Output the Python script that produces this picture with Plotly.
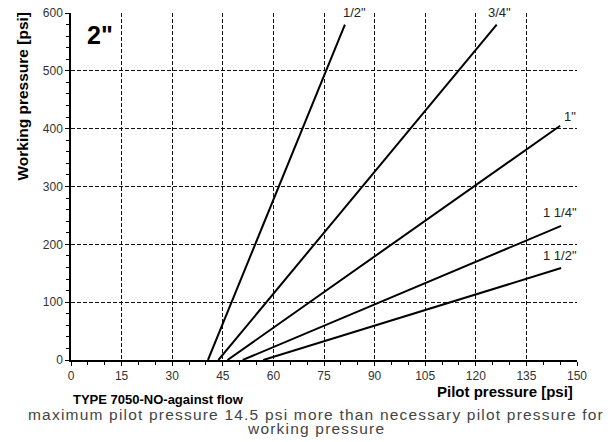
import plotly.graph_objects as go

# pilot pressure [psi] vs working pressure [psi] per valve size
sizes = ['1/2"', '3/4"', '1"', '1 1/4"', '1 1/2"']
pilot = [
    [40.6, 81.2],
    [43.7, 126.2],
    [46.4, 145.0],
    [50.9, 145.3],
    [57.0, 145.3],
]
working = [
    [0, 580],
    [0, 580],
    [0, 405],
    [0, 232],
    [0, 159],
]

x_ticks = [0, 15, 30, 45, 60, 75, 90, 105, 120, 135, 150]
y_ticks = [0, 100, 200, 300, 400, 500, 600]

# label offsets (px) from each line end
label_shift = [(10, 12), (3, 12), (10, 9), (-1, 13), (-1, 13)]

FONT = "Arial, Liberation Sans, Helvetica, sans-serif"
GRID_DARK = "#111111"
GRID_LIGHT = "#cfcfcf"

fig = go.Figure()

for name, xs, ys, (dx, dy) in zip(sizes, pilot, working, label_shift):
    fig.add_trace(go.Scatter(
        x=xs, y=ys, mode="lines", name=name,
        line=dict(color="black", width=2),
        showlegend=False, hoverinfo="skip",
    ))
    fig.add_annotation(
        x=xs[-1], y=ys[-1], text=name, showarrow=False,
        xanchor="center", yanchor="middle", xshift=dx, yshift=dy,
        font=dict(family=FONT, size=13, color="#222222"),
    )

common = dict(showline=False, zeroline=False, ticks="", showticklabels=False,
              automargin=False)

fig.update_layout(
    width=616, height=442,
    margin=dict(l=71, r=39, t=13, b=82, autoexpand=False),
    paper_bgcolor="white", plot_bgcolor="white",
    font=dict(family=FONT, size=12, color="#333333"),
    xaxis=dict(
        range=[0, 150], tickvals=x_ticks, showgrid=False, zeroline=False,
        showline=True, linecolor="black", linewidth=1.5, automargin=False,
        ticks="outside", ticklen=4, tickcolor="black",
        minor=dict(dtick=5, ticks="outside", ticklen=3, tickcolor="black"),
        tickfont=dict(size=12, color="#333333"),
    ),
    yaxis=dict(
        range=[0, 600], tickvals=y_ticks, showgrid=False, zeroline=False,
        showline=True, linecolor="black", linewidth=1.5, automargin=False,
        ticks="outside", ticklen=4, tickcolor="black",
        minor=dict(dtick=20, ticks="outside", ticklen=3, tickcolor="black"),
        tickfont=dict(size=12, color="#333333"),
    ),
    # interior dashed grid
    xaxis2=dict(range=[0, 150], overlaying="x", tickvals=x_ticks[1:-1],
                showgrid=True, gridcolor=GRID_DARK, gridwidth=1,
                griddash="4px,2px", layer="below traces", **common),
    yaxis2=dict(range=[0, 600], overlaying="y", tickvals=y_ticks[1:-1],
                showgrid=True, gridcolor=GRID_DARK, gridwidth=1,
                griddash="4px,2px", layer="below traces", **common),
    # light dashed border on top/right
    xaxis3=dict(range=[0, 150], overlaying="x", tickvals=[x_ticks[-1]],
                showgrid=True, gridcolor=GRID_LIGHT, gridwidth=1.5,
                griddash="4px,2px", layer="below traces", **common),
    yaxis3=dict(range=[0, 600], overlaying="y", tickvals=[y_ticks[-1]],
                showgrid=True, gridcolor=GRID_LIGHT, gridwidth=1.5,
                griddash="4px,2px", layer="below traces", **common),
)

# invisible helpers so the overlay axes get drawn
for ax in ("2", "3"):
    fig.add_trace(go.Scatter(x=[0], y=[0], xaxis="x" + ax, yaxis="y" + ax,
                             mode="markers", marker=dict(opacity=0),
                             showlegend=False, hoverinfo="skip"))

fig.add_annotation(x=0.0277, y=0.9366, xref="paper", yref="paper",
                   xanchor="left", yanchor="middle", showarrow=False,
                   text="<b>2\"</b>", font=dict(family=FONT, size=25, color="black"))
fig.add_annotation(x=-0.0968, y=1.0086, xref="paper", yref="paper",
                   xanchor="center", yanchor="top", textangle=-90, showarrow=False,
                   text="<b>Working pressure [psi]</b>",
                   font=dict(family=FONT, size=15.5, color="black"))
fig.add_annotation(x=0.996, y=-0.0922, xref="paper", yref="paper",
                   xanchor="right", yanchor="middle", showarrow=False,
                   text="<b>Pilot pressure [psi]</b>",
                   font=dict(family=FONT, size=15, color="black"))
fig.add_annotation(x=0.0, y=-0.1124, xref="paper", yref="paper",
                   xanchor="left", yanchor="middle", showarrow=False,
                   text="<b>TYPE 7050-NO-against flow</b>",
                   font=dict(family=FONT, size=13, color="black"))

footer = ["maximum pilot pressure 14.5 psi more than necessary pilot pressure for",
          "working pressure"]
for line, ypos in zip(footer, (-0.1585, -0.1960)):
    fig.add_annotation(x=0.484, y=ypos, xref="paper", yref="paper",
                       xanchor="center", yanchor="middle", showarrow=False,
                       text=f"<span style='letter-spacing:1.2px'>{line}</span>",
                       font=dict(family=FONT, size=15.5, color="#444444"))

fig.write_html("out.html", config={"displayModeBar": False},
               post_script="document.body.style.margin='0';")
